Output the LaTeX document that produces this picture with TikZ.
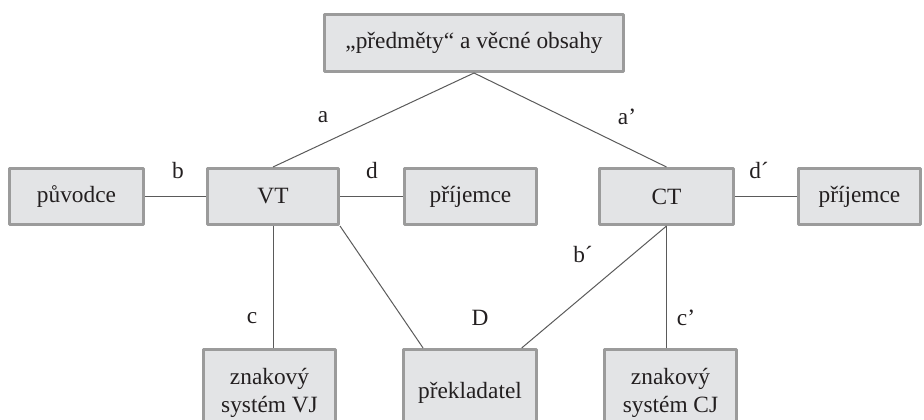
\documentclass[tikz,border=0pt]{standalone}
\usepackage{fontspec}
\setmainfont{Liberation Serif}
\usetikzlibrary{calc}
\definecolor{boxfill}{HTML}{E3E4E6}
\definecolor{boxline}{HTML}{9B9B9B}
\definecolor{linkline}{HTML}{5A5A5A}
\definecolor{textcol}{HTML}{231F20}
\begin{document}
\begin{tikzpicture}[x=0.75pt, y=-0.75pt, font=\fontsize{17.5}{20.5}\selectfont, line join=round, text=textcol,
	box/.style={draw=boxline, fill=boxfill, line width=2.25pt, inner sep=0pt, minimum height=42pt, align=center},
	link/.style={draw=linkline, line width=0.75pt},
	lbl/.style={inner sep=0pt}]
		\useasboundingbox (0,0) rectangle (924,420);
		\clip (0,0) rectangle (924,420);
		% boxes
		\node[box, minimum width=224.25pt, minimum height=42.75pt] (vecne) at (474,43) {„předměty“ a věcné obsahy};
		\node[box, minimum width=100.5pt] (puvodce) at (76.5,196.5) {původce};
		\node[box, minimum width=98.25pt] (vt) at (273,196.5) {VT};
		\node[box, minimum width=99pt] (prijemceV) at (470.5,196.5) {příjemce};
		\node[box, minimum width=100.5pt] (ct) at (666.5,196.5) {CT};
		\node[box, minimum width=91.5pt] (prijemceC) at (859.5,196.5) {příjemce};
		\node[box, minimum width=99pt, minimum height=65.25pt] (znakVJ) at (269.5,393) {znakový\\systém VJ};
		\node[box, minimum width=99.75pt, minimum height=65.25pt] (preklad) at (470,393) {překladatel};
		\node[box, minimum width=99pt, minimum height=65.25pt] (znakCJ) at (670.5,393) {znakový\\systém CJ};
		% connectors
		\draw[link] (vecne.south) -- (vt.north);
		\draw[link] (vecne.south) -- (ct.north);
		\draw[link] (puvodce.east) -- (vt.west);
		\draw[link] (vt.east) -- (prijemceV.west);
		\draw[link] (ct.east) -- (prijemceC.west);
		\draw[link] (vt.south) -- (vt.south |- znakVJ.north);
		\draw[link] (ct.south) -- (ct.south |- znakCJ.north);
		\draw[link] (vt.south east) -- ($(preklad.north west)!0.155!(preklad.north east)$);
		\draw[link] (ct.south) -- ($(preklad.north west)!0.88!(preklad.north east)$);
		% labels
		\node[lbl] (la) at (323,117) {a};
		\node[lbl] (la2) at (627,117) {a’};
		\node[lbl] (lb) at (178,171) {b};
		\node[lbl] (ld) at (372,171) {d};
		\node[lbl] (ld2) at (759,171) {d´};
		\node[lbl] (lb2) at (583,255) {b´};
		\node[lbl] (lc) at (252,318) {c};
		\node[lbl] (lD) at (480,318) {D};
		\node[lbl] (lc2) at (686,318) {c’};
	\end{tikzpicture}
\end{document}
